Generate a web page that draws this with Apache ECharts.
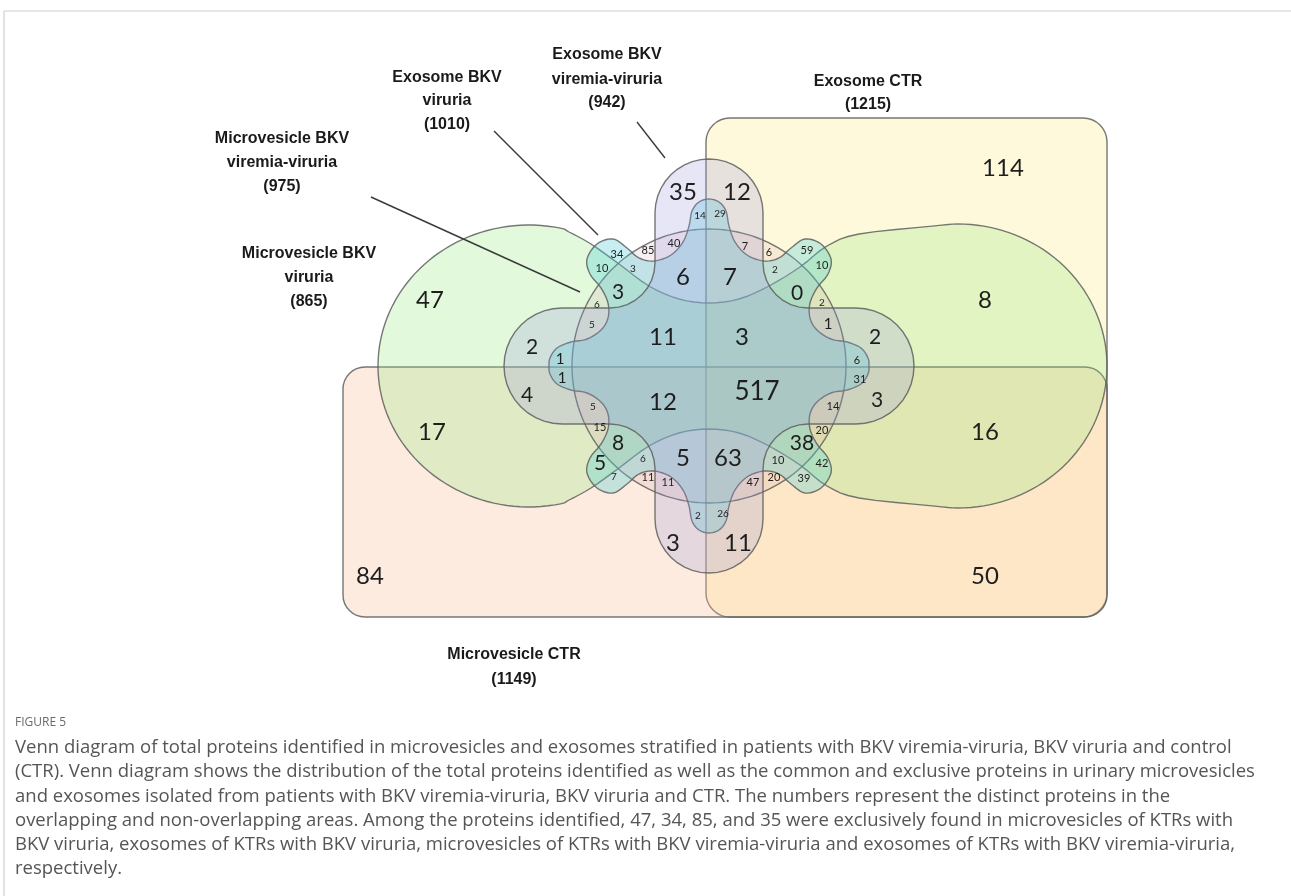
<!DOCTYPE html>
<html>
<head>
<meta charset="utf-8">
<title>Venn diagram – proteins in urinary microvesicles and exosomes</title>
<script src="https://cdn.jsdelivr.net/npm/echarts@6.0.0/dist/echarts.min.js"></script>
<style>
  html, body { margin: 0; padding: 0; background: #ffffff; }
  #chart { width: 1291px; height: 896px; }
</style>
</head>
<body>
<div id="chart"></div>
<script>
// ---------------- data ----------------
// Sets, in drawing order
const setNameLines = [
  ['Exosome CTR'],
  ['Microvesicle CTR'],
  ['Microvesicle BKV', 'viruria'],
  ['Microvesicle BKV', 'viremia-viruria'],
  ['Exosome BKV', 'viruria'],
  ['Exosome BKV', 'viremia-viruria']
];
const setTotals = [1215, 1149, 865, 975, 1010, 942];

// Protein counts of the 63 regions (grouped by CTR quadrant)
const regionCounts = [
  // no CTR set
  47, 35, 14, 40, 85, 34, 10, 3, 6, 3, 6, 5, 2, 1, 11,
  // Exosome CTR only
  114, 12, 29, 7, 6, 59, 10, 2, 7, 0, 2, 1, 2, 6, 3, 8,
  // Microvesicle CTR only
  84, 17, 1, 4, 5, 15, 8, 5, 7, 6, 11, 11, 2, 3, 12, 5,
  // both CTR sets
  50, 16, 3, 31, 14, 20, 38, 42, 39, 10, 20, 47, 26, 11, 63, 517
];

const captionTitle = 'FIGURE 5';
const captionLines = [
  'Venn diagram of total proteins identified in microvesicles and exosomes stratified in patients with BKV viremia-viruria, BKV viruria and control',
  '(CTR). Venn diagram shows the distribution of the total proteins identified as well as the common and exclusive proteins in urinary microvesicles',
  'and exosomes isolated from patients with BKV viremia-viruria, BKV viruria and CTR. The numbers represent the distinct proteins in the',
  'overlapping and non-overlapping areas. Among the proteins identified, 47, 34, 85, and 35 were exclusively found in microvesicles of KTRs with',
  'BKV viruria, exosomes of KTRs with BKV viruria, microvesicles of KTRs with BKV viremia-viruria and exosomes of KTRs with BKV viremia-viruria,',
  'respectively.'
];

// ---------------- layout ----------------
const W = 1291, H = 896;
const CX = 709, CY = 366;          // centre of the diagram

// anchor [x, y] and font size of each region count (same order as regionCounts)
const regionAnchors = [
  [430,300],[683,192],[700,216],[674,243],[648,250],[617,254],[602,268],[633,269],[683,277],[618,292],[597,305],[592,325],[532,347],[560,359],[663,337],
  [1003,168],[737,192],[720,214],[745,246],[769,252],[807,250],[822,265],[775,270],[730,277],[797,293],[822,303],[828,324],[875,337],[857,360],[742,337],[985,300],
  [370,576],[432,432],[562,378],[527,395],[593,407],[600,427],[618,443],[600,463],[614,477],[643,459],[648,477],[668,482],[698,516],[673,543],[663,402],[683,458],
  [985,576],[985,432],[877,400],[860,379],[833,406],[822,430],[802,443],[822,463],[804,478],[778,460],[774,477],[753,482],[723,514],[738,543],[728,458],[757,392]
];
const regionFont = [
  24,24,10,11,11,11,11,10,24,21,10,10,21,15,24,
  24,24,10,11,11,11,11,10,24,21,10,15,21,11,24,24,
  24,24,15,21,10,11,21,21,10,10,11,11,10,24,24,24,
  24,24,21,11,11,11,21,11,11,11,11,11,10,24,24,26
];

// set label placement: centre x, y of each line
const setLabelPos = [
  { x: 868, y: [82, 105] },
  { x: 514, y: [655, 680] },
  { x: 309, y: [254, 278, 302] },
  { x: 282, y: [139, 163, 187] },
  { x: 447, y: [78, 101, 125] },
  { x: 607, y: [55, 80, 103] }
];
// leader lines [x1, y1, x2, y2]
const leaderLines = [
  [637, 122, 665, 158],
  [494, 131, 598, 235],
  [371, 197, 580, 292]
];

// fills of the six sets
const setFill = [
  'rgba(255,236,150,0.33)',
  'rgba(248,188,150,0.30)',
  'rgba(150,232,128,0.28)',
  'rgba(205,150,160,0.16)',
  'rgba(80,205,215,0.32)',
  'rgba(150,150,222,0.24)'
];
const edgeColor = 'rgba(95,95,95,0.85)';

// ---------------- geometry helpers ----------------
function arc(cx, cy, rx, ry, a0, a1, n) {
  const out = [];
  for (let k = 0; k <= n; k++) {
    const a = (a0 + (a1 - a0) * k / n) * Math.PI / 180;
    out.push([cx + rx * Math.cos(a), cy - ry * Math.sin(a)]);
  }
  return out;
}
// whole outline from the top-left quarter (ordered from the top axis point to the left axis point)
function mirrorQuarter(tl) {
  const pts = tl.map(p => [p[0], p[1]]);
  tl.slice(0, -1).reverse().forEach(p => pts.push([p[0], -p[1]]));
  tl.slice(1).forEach(p => pts.push([-p[0], -p[1]]));
  tl.slice(0, -1).reverse().slice(0, -1).forEach(p => pts.push([-p[0], p[1]]));
  return pts;
}
// outline from a top-left and a top-right quarter, each mirrored top/bottom
function mirrorHalves(tl, tr) {
  const pts = tl.map(p => [p[0], p[1]]);
  tl.slice(0, -1).reverse().forEach(p => pts.push([p[0], -p[1]]));
  tr.slice(1).forEach(p => pts.push([p[0], -p[1]]));
  tr.slice(1, -1).reverse().forEach(p => pts.push([p[0], p[1]]));
  return pts;
}
// closed Catmull-Rom smoothing
function smoothClosed(pts, steps) {
  const out = [], n = pts.length;
  for (let i = 0; i < n; i++) {
    const p0 = pts[(i - 1 + n) % n], p1 = pts[i], p2 = pts[(i + 1) % n], p3 = pts[(i + 2) % n];
    for (let s = 0; s < steps; s++) {
      const t = s / steps, t2 = t * t, t3 = t2 * t;
      const f = (a, b, c, d) => 0.5 * (2 * b + (-a + c) * t + (2 * a - 5 * b + 4 * c - d) * t2 + (-a + 3 * b - 3 * c + d) * t3);
      out.push([f(p0[0], p1[0], p2[0], p3[0]), f(p0[1], p1[1], p2[1], p3[1])]);
    }
  }
  return out;
}

// Microvesicle BKV viruria: horizontal dumbbell (waist + one lobe per side)
const greenLeft = [[0,-63],[-30,-67],[-60,-80],[-90,-102],[-118,-122],[-140,-134]].concat(arc(-180, 0, 151, 141, 78, 180, 10));
const greenRight = [[0,-63],[30,-67],[60,-80],[91,-99],[118,-120],[150,-132]].concat(arc(249, 0, 149, 142, 100, 0, 10));
// Microvesicle BKV viremia-viruria: central disc
const discPts = arc(0, 0, 137, 137, 0, 360, 180).slice(0, -1);
// Exosome BKV viruria: wavy outline with small lobes
const cyanQuarter = [[0,-167],[-10,-164],[-17,-155],[-20,-140],[-26,-124],[-38,-111],[-55,-105],[-70,-108],[-82,-118],[-96,-127],[-112,-122],[-122,-107],[-119,-92],[-108,-78],[-101,-63],[-101,-48],[-108,-36],[-122,-27],[-138,-24],[-152,-18],[-159,-8],[-160,0]];
// Exosome BKV viremia-viruria: cross with four rounded arms
const crossQuarter = [].concat(
  arc(0, -153, 54, 54, 90, 180, 10),
  [[-54, -128]],
  arc(-99, -103, 45, 45, 0, -90, 8),
  [[-123, -58]],
  arc(-147, 0, 58, 58, 90, 180, 10)
);

const shapeGeom = [
  { rect: [706, 118, 1107, 617, 24] },
  { rect: [343, 367, 1107, 617, 22] },
  { pts: smoothClosed(mirrorHalves(greenLeft, greenRight), 4) },
  { pts: discPts },
  { pts: smoothClosed(mirrorQuarter(cyanQuarter), 6) },
  { pts: mirrorQuarter(crossQuarter) }
];

// caption font size fitted to the text column width
const measureCtx = document.createElement('canvas').getContext('2d');
const captionFamily = '"Open Sans", "Noto Sans", sans-serif';
measureCtx.font = '100px ' + captionFamily;
const captionSize = 100 * 1240 / measureCtx.measureText(captionLines[1]).width;

// ---------------- chart ----------------
const chart = echarts.init(document.getElementById('chart'), null, { renderer: 'canvas' });

const graphicEls = [
  { type: 'line', shape: { x1: 4, y1: 11, x2: W, y2: 11 }, style: { stroke: '#d0d0d0', lineWidth: 1.2 } },
  { type: 'line', shape: { x1: 4, y1: 11, x2: 4, y2: H }, style: { stroke: '#d0d0d0', lineWidth: 1.2 } },
  { type: 'text', x: 15, y: 723, style: { text: captionTitle, fill: '#6a6a6a', fontSize: 12, fontFamily: captionFamily, verticalAlign: 'middle' } }
];
captionLines.forEach((t, i) => {
  graphicEls.push({ type: 'text', x: 15, y: 748 + i * 24.2,
    style: { text: t, fill: '#555555', fontSize: captionSize, fontFamily: captionFamily, verticalAlign: 'middle' } });
});

const option = {
  animation: false,
  backgroundColor: '#ffffff',
  grid: { left: 0, right: 0, top: 0, bottom: 0, containLabel: false },
  xAxis: { type: 'value', min: 0, max: W, show: false },
  yAxis: { type: 'value', min: 0, max: H, inverse: true, show: false },
  graphic: { elements: graphicEls },
  series: [
    {
      type: 'custom',
      name: 'sets',
      coordinateSystem: 'cartesian2d',
      clip: false,
      silent: true,
      data: setTotals.map((t, i) => [CX, CY, i]),
      renderItem: function (params, api) {
        const i = params.dataIndex;
        const g = shapeGeom[i];
        const style = { fill: setFill[i], stroke: edgeColor, lineWidth: 1.4 };
        if (g.rect) {
          const p0 = api.coord([g.rect[0], g.rect[1]]);
          const p1 = api.coord([g.rect[2], g.rect[3]]);
          return { type: 'rect', shape: { x: p0[0], y: p0[1], width: p1[0] - p0[0], height: p1[1] - p0[1], r: g.rect[4] }, style: style };
        }
        const cx = api.value(0), cy = api.value(1);
        const pts = g.pts.map(p => api.coord([cx + p[0], cy + p[1]]));
        return { type: 'polygon', shape: { points: pts }, style: style };
      }
    },
    {
      type: 'custom',
      name: 'leaders',
      coordinateSystem: 'cartesian2d',
      clip: false,
      silent: true,
      data: leaderLines,
      renderItem: function (params, api) {
        const a = api.coord([api.value(0), api.value(1)]);
        const b = api.coord([api.value(2), api.value(3)]);
        return { type: 'line', shape: { x1: a[0], y1: a[1], x2: b[0], y2: b[1] }, style: { stroke: '#3a3a3a', lineWidth: 1.4 } };
      }
    },
    {
      type: 'custom',
      name: 'set labels',
      coordinateSystem: 'cartesian2d',
      clip: false,
      silent: true,
      data: setTotals.map((t, i) => [setLabelPos[i].x, setLabelPos[i].y[0], t]),
      renderItem: function (params, api) {
        const i = params.dataIndex;
        const lines = setNameLines[i].concat(['(' + api.value(2) + ')']);
        const children = lines.map((txt, k) => {
          const p = api.coord([setLabelPos[i].x, setLabelPos[i].y[k]]);
          return { type: 'text', style: { text: txt, x: p[0], y: p[1], align: 'center', verticalAlign: 'middle',
            fill: '#1a1a1a', fontSize: 16, fontWeight: 'bold', fontFamily: '"Liberation Sans", Arial, sans-serif' } };
        });
        return { type: 'group', children: children };
      }
    },
    {
      type: 'custom',
      name: 'region counts',
      coordinateSystem: 'cartesian2d',
      clip: false,
      silent: true,
      data: regionCounts.map((c, i) => [regionAnchors[i][0], regionAnchors[i][1], c]),
      renderItem: function (params, api) {
        const p = api.coord([api.value(0), api.value(1)]);
        return { type: 'text', style: { text: String(api.value(2)), x: p[0], y: p[1], align: 'center', verticalAlign: 'middle',
          fill: '#1e1e1e', fontSize: regionFont[params.dataIndex], fontFamily: 'Lato, "Open Sans", sans-serif' } };
      }
    }
  ]
};
chart.setOption(option);
</script>
</body>
</html>
